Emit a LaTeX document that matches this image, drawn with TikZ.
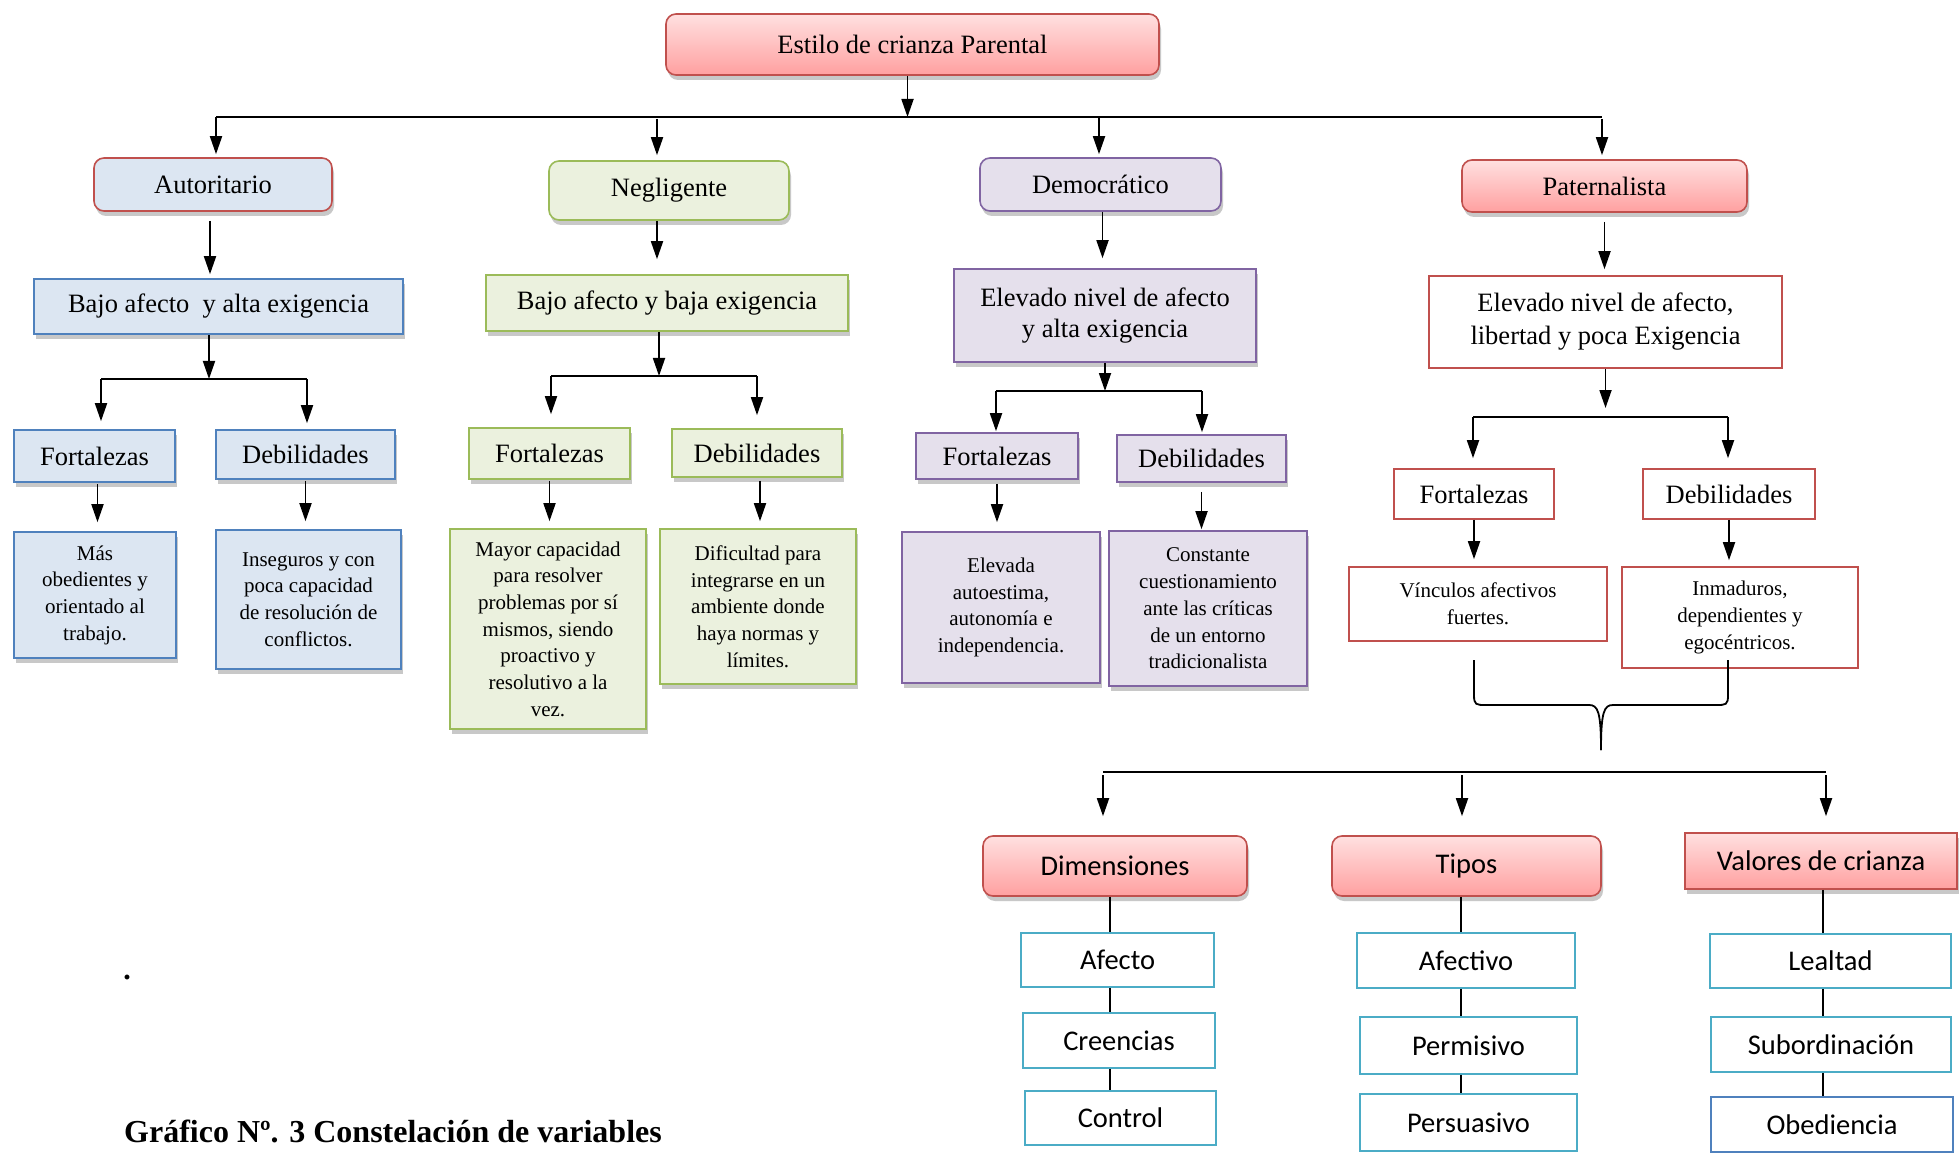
\documentclass[tikz,border=0pt]{standalone}
\usepackage{fontspec}
\setmainfont{Liberation Serif}
\newfontfamily\calib{Carlito}
\usetikzlibrary{arrows.meta,shadows}
\definecolor{bfill}{HTML}{DCE6F2}
\definecolor{bborder}{HTML}{4F81BD}
\definecolor{gfill}{HTML}{EBF1DE}
\definecolor{gborder}{HTML}{9BBB59}
\definecolor{pfill}{HTML}{E5E0EC}
\definecolor{pborder}{HTML}{8064A2}
\definecolor{rborder}{HTML}{C0504D}
\definecolor{rtop}{HTML}{FFE0E0}
\definecolor{rbot}{HTML}{FFA0A0}
\definecolor{iborder}{HTML}{4BACC6}
\begin{document}
\begin{tikzpicture}[x=1pt,y=-1pt,
  box/.style={draw, line width=1.6pt, inner sep=0pt, align=center, font=\fontsize{26.5}{31}\selectfont},
  rbox/.style={box, rounded corners=10pt},
  sz/.style 2 args={minimum width=#1pt, minimum height=#2pt},
  shad/.style={drop shadow={shadow xshift=2pt, shadow yshift=-5pt, opacity=0.3, fill=black!70}},
  redgrad/.style={top color=rtop, bottom color=rbot, draw=rborder},
  blueb/.style={fill=bfill, draw=bborder},
  greenb/.style={fill=gfill, draw=gborder},
  purpb/.style={fill=pfill, draw=pborder},
  redw/.style={fill=white, draw=rborder},
  itm/.style={box, fill=white, draw=iborder, sans},
  small/.style={font=\fontsize{21}{26.7}\selectfont},
  sans/.style={font=\calib\fontsize{28.5}{34}\selectfont},
  arr/.style={draw, line width=1.8pt, -{Triangle[length=18pt,width=12pt]}},
  bar/.style={draw, line width=2.4pt},
  lnk/.style={draw, line width=1.6pt}
]
\useasboundingbox (0,0) rectangle (1959,1155);
\fill[white] (0,0) rectangle (1959,1155);

% top
\node[rbox, shad, redgrad, sz={493}{61}] (top) at (912.5,44.5) {Estilo de crianza Parental};
\coordinate (bl) at (216,117);
\coordinate (bn) at (657,117);
\coordinate (bd) at (1099,117);
\coordinate (br) at (1602,117);
\draw[arr] ([xshift=-5pt]top.south) -- ([xshift=-5pt]top.south |- bl);
\draw[bar] (bl) -- (br);

% level 1
\node[rbox, shad, fill=bfill, draw=rborder, sz={238}{53}] (aut) at (213,184.5) {Autoritario};
\node[rbox, shad, greenb, sz={240}{59}] (neg) at (669,190.5) {Negligente};
\node[rbox, shad, purpb, sz={241}{53}] (dem) at (1100.5,184.5) {Democrático};
\node[rbox, shad, redgrad, sz={285}{52}] (pat) at (1604.5,186) {Paternalista};
\draw[arr, shorten >=3pt] (bl) -- (bl |- aut.north);
\draw[arr, shorten >=5pt, shorten <=2pt] (bn) -- (bn |- neg.north);
\draw[arr, shorten >=3pt] (bd) -- (bd |- dem.north);
\draw[arr, shorten >=4pt, shorten <=2pt] (br) -- (br |- pat.north);

% level 2
\node[box, shad, blueb, sz={369}{55}] (a2) at (218.5,306.5) {Bajo afecto\ \ y alta exigencia};
\node[box, shad, greenb, sz={362}{56}] (n2) at (667,303) {Bajo afecto y baja exigencia};
\node[box, shad, purpb, sz={302}{93}] (d2) at (1105,315.5) {Elevado nivel de afecto\\y alta exigencia};
\node[box, redw, sz={353}{92}, font=\fontsize{26.5}{33}\selectfont] (p2) at (1605.5,322) {Elevado nivel de afecto,\\libertad y poca Exigencia};
\draw[arr, shorten <=9pt, shorten >=4pt] ([xshift=-3pt]aut.south) -- ([xshift=-3pt]aut.south |- a2.north);
\draw[arr, shorten >=15pt] ([xshift=-12pt]neg.south) -- ([xshift=-12pt]neg.south |- n2.north);
\draw[arr, shorten >=10pt] ([xshift=2pt]dem.south) -- ([xshift=2pt]dem.south |- d2.north);
\draw[arr, shorten <=9pt, shorten >=6pt] (pat.south) -- (pat.south |- p2.north);

% branches
\coordinate (abl) at (101,379);  \coordinate (abr) at (307,379);
\coordinate (nbl) at (551,376);  \coordinate (nbr) at (757,376);
\coordinate (dbl) at (996,391);  \coordinate (dbr) at (1202,391);
\coordinate (pbl) at (1473,417); \coordinate (pbr) at (1728,417);
\draw[arr] ([xshift=-9.5pt]a2.south) -- ([xshift=-9.5pt]a2.south |- abl);
\draw[arr] ([xshift=-8pt]n2.south) -- ([xshift=-8pt]n2.south |- nbl);
\draw[arr] (d2.south) -- (d2.south |- dbl);
\draw[arr, shorten >=9pt] (p2.south) -- (p2.south |- pbl);
\draw[bar] (abl) -- (abr);
\draw[bar] (nbl) -- (nbr);
\draw[bar] (dbl) -- (dbr);
\draw[bar] (pbl) -- (pbr);

% level 3
\node[box, shad, blueb, sz={161}{52}] (af) at (94.5,456) {Fortalezas};
\node[box, shad, blueb, sz={179}{49}] (ad) at (305.5,454.5) {Debilidades};
\node[box, shad, greenb, sz={161}{51}] (nf) at (549.5,453.5) {Fortalezas};
\node[box, shad, greenb, sz={170}{48}] (nd) at (757,453) {Debilidades};
\node[box, shad, purpb, sz={162}{46}] (df) at (997,456) {Fortalezas};
\node[box, shad, purpb, sz={169}{47}] (dd) at (1201.5,458.5) {Debilidades};
\node[box, redw, sz={160}{50}] (pf) at (1474,494) {Fortalezas};
\node[box, redw, sz={172}{50}] (pd) at (1729,494) {Debilidades};
\draw[arr, shorten >=8pt] (abl) -- (abl |- af.north);
\draw[arr, shorten >=6pt] (abr) -- (abr |- ad.north);
\draw[arr, shorten >=13pt] (nbl) -- (nbl |- nf.north);
\draw[arr, shorten >=13pt] (nbr) -- (nbr |- nd.north);
\draw[arr, shorten >=1pt] (dbl) -- (dbl |- df.north);
\draw[arr, shorten >=2pt] (dbr) -- (dbr |- dd.north);
\draw[arr, shorten >=10pt] (pbl) -- (pbl |- pf.north);
\draw[arr, shorten >=10pt] (pbr) -- (pbr |- pd.north);

% level 4
\node[box, shad, blueb, small, sz={162}{126}] (af4) at (95,595) {Más\\obedientes y\\orientado al\\trabajo.};
\node[box, shad, blueb, small, sz={185}{139}] (ad4) at (308.5,599.5) {Inseguros y con\\poca capacidad\\de resolución de\\conflictos.};
\node[box, shad, greenb, small, sz={196}{200}] (nf4) at (548,629) {Mayor capacidad\\para resolver\\problemas por sí\\mismos, siendo\\proactivo y\\resolutivo a la\\vez.};
\node[box, shad, greenb, small, sz={196}{155}] (nd4) at (758,606.5) {Dificultad para\\integrarse en un\\ambiente donde\\haya normas y\\límites.};
\node[box, shad, purpb, small, sz={198}{151}] (df4) at (1001,607.5) {Elevada\\autoestima,\\autonomía e\\independencia.};
\node[box, shad, purpb, small, sz={198}{155}] (dd4) at (1208,608.5) {Constante\\cuestionamiento\\ante las críticas\\de un entorno\\tradicionalista};
\node[box, redw, small, sz={258}{74}] (pf4) at (1478,604) {Vínculos afectivos\\fuertes.};
\node[box, redw, small, sz={236}{101}] (pd4) at (1740,617.5) {Inmaduros,\\dependientes y\\egocéntricos.};
\draw[arr, shorten <=1pt, shorten >=9pt] ([xshift=3pt]af.south) -- ([xshift=3pt]af.south |- af4.north);
\draw[arr, shorten <=1pt, shorten >=8pt] (ad.south) -- (ad.south |- ad4.north);
\draw[arr, shorten <=1pt, shorten >=7pt] (nf.south) -- (nf.south |- nf4.north);
\draw[arr, shorten <=3pt, shorten >=7pt] ([xshift=3pt]nd.south) -- ([xshift=3pt]nd.south |- nd4.north);
\draw[arr, shorten <=4pt, shorten >=9pt] (df.south) -- (df.south |- df4.north);
\draw[arr, shorten <=9pt, shorten >=1pt] (dd.south) -- (dd.south |- dd4.north);
\draw[arr, shorten >=7pt] (pf.south) -- (pf.south |- pf4.north);
\draw[arr, shorten >=6pt] (pd.south) -- (pd.south |- pd4.north);

% brace
\draw[line width=1.8pt] (1474,660) -- (1474,695) .. controls (1474,705) and (1476,705) .. (1486,705) -- (1589,705) .. controls (1598,705) and (1601,712) .. (1601,750);
\draw[line width=1.8pt] (1728,660) -- (1728,695) .. controls (1728,705) and (1726,705) .. (1716,705) -- (1613,705) .. controls (1604,705) and (1601,712) .. (1601,750);

% bottom bar
\coordinate (ql) at (1103,772);
\coordinate (qm) at (1462,772);
\coordinate (qr) at (1826,772);
\draw[bar] (ql) -- (qr);

% headers
\node[rbox, shad, redgrad, sans, sz={264}{60}] (dim) at (1115,866) {Dimensiones};
\node[rbox, shad, redgrad, sans, sz={269}{60}] (tip) at (1466.5,866) {Tipos};
\node[box, shad, redgrad, sans, sz={272}{56}] (val) at (1821,861) {Valores de crianza};
\draw[arr, shorten <=3pt, shorten >=19pt] (ql) -- (ql |- dim.north);
\draw[arr, shorten <=3pt, shorten >=19pt] (qm) -- (qm |- tip.north);
\draw[arr, shorten <=3pt, shorten >=16pt] (qr) -- (qr |- val.north);

% items
\node[itm, sz={193}{54}] (i11) at (1117.5,960) {Afecto};
\node[itm, sz={192}{55}] (i12) at (1119,1040.5) {Creencias};
\node[itm, sz={191}{54}] (i13) at (1120.5,1118) {Control};
\node[itm, sz={218}{55}] (i21) at (1466,960.5) {Afectivo};
\node[itm, sz={217}{57}] (i22) at (1468.5,1045.5) {Permisivo};
\node[itm, sz={217}{57}] (i23) at (1468.5,1122.5) {Persuasivo};
\node[itm, sz={241}{54}] (i31) at (1830.5,961) {Lealtad};
\node[itm, sz={240}{55}] (i32) at (1831,1044.5) {Subordinación};
\node[itm, draw=bborder, sz={242}{55}] (i33) at (1832,1124.5) {Obediencia};
\draw[lnk] ([xshift=-5pt]dim.south) -- ([xshift=-5pt]dim.south |- i11.north);
\draw[lnk] ([xshift=-7.5pt]i11.south) -- ([xshift=-7.5pt]i11.south |- i12.north);
\draw[lnk] ([xshift=-9pt]i12.south) -- ([xshift=-9pt]i12.south |- i13.north);
\draw[lnk] ([xshift=-5.5pt]tip.south) -- ([xshift=-5.5pt]tip.south |- i21.north);
\draw[lnk] ([xshift=-5pt]i21.south) -- ([xshift=-5pt]i21.south |- i22.north);
\draw[lnk] ([xshift=-7.5pt]i22.south) -- ([xshift=-7.5pt]i22.south |- i23.north);
\draw[lnk] ([xshift=2pt]val.south) -- ([xshift=2pt]val.south |- i31.north);
\draw[lnk] ([xshift=-7.5pt]i31.south) -- ([xshift=-7.5pt]i31.south |- i32.north);
\draw[lnk] ([xshift=-8pt]i32.south) -- ([xshift=-8pt]i32.south |- i33.north);

% dot and caption
\node[anchor=base, inner sep=0pt, font=\bfseries\fontsize{30}{36}\selectfont] (dot) at (127,979) {.};
\node[anchor=base west, inner sep=0pt, font=\bfseries\fontsize{32}{38}\selectfont] (cap) at (124,1142) {Gráfico Nº. 3 Constelación de variables};
\end{tikzpicture}
\end{document}
